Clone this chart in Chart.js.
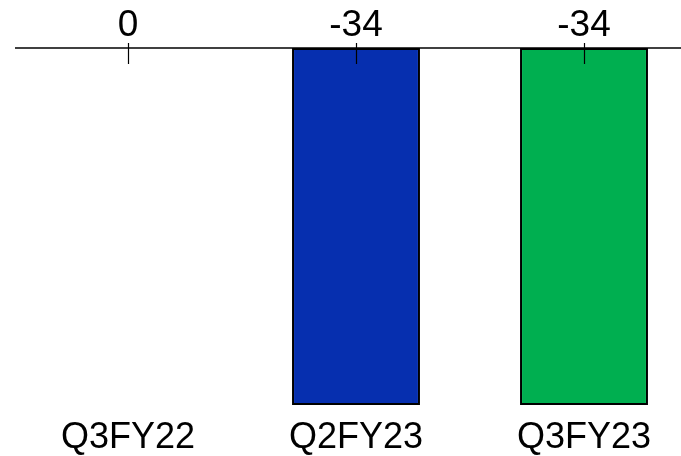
<!DOCTYPE html>
<html>
<head>
<meta charset="utf-8">
<script src="https://cdn.jsdelivr.net/npm/chart.js@4.4.1/dist/chart.umd.min.js"></script>
<style>
  html, body { margin: 0; padding: 0; background: #ffffff; overflow: hidden; }
  #frame { position: relative; width: 681px; height: 456px; overflow: hidden; }
  #wrap { position: absolute; left: 0; top: 0; width: 698px; height: 456px; }
</style>
</head>
<body>
<div id="frame"><div id="wrap"><canvas id="chart"></canvas></div></div>
<script>
// Quarterly change figures
const categories = ['Q3FY22', 'Q2FY23', 'Q3FY23'];
const values = [0, -34, -34];
const barColors = ['#7f7f7f', '#062FAF', '#00AF50'];

const FONT = '"Liberation Sans", Arial, Helvetica, sans-serif';

// Zero line, tick marks across it and value labels above it
const zeroAxis = {
  id: 'zeroAxis',
  afterDatasetsDraw(chart) {
    const { ctx, scales: { x, y } } = chart;
    const y0 = y.getPixelForValue(0);
    ctx.save();
    ctx.strokeStyle = '#000000';
    ctx.lineWidth = 1.6;
    ctx.beginPath();
    ctx.moveTo(15, y0);
    ctx.lineTo(chart.width, y0);
    ctx.stroke();
    ctx.lineWidth = 1.2;
    ctx.fillStyle = '#000000';
    ctx.font = '37px ' + FONT;
    ctx.textAlign = 'center';
    ctx.textBaseline = 'alphabetic';
    categories.forEach((c, i) => {
      const px = Math.round(x.getPixelForValue(i)) + 0.5;
      ctx.beginPath();
      ctx.moveTo(px, y0 - 5);
      ctx.lineTo(px, y0 + 16);
      ctx.stroke();
      ctx.fillText(String(values[i]), x.getPixelForValue(i), y0 - 12.5);
    });
    ctx.restore();
  }
};

new Chart(document.getElementById('chart'), {
  type: 'bar',
  data: {
    labels: categories,
    datasets: [{
      data: values,
      backgroundColor: barColors,
      borderColor: '#000000',
      borderWidth: 2,
      borderSkipped: false,
      categoryPercentage: 1,
      barPercentage: 0.561
    }]
  },
  options: {
    responsive: true,
    maintainAspectRatio: false,
    animation: false,
    layout: { padding: { left: 14, right: 0, top: 48, bottom: 0 } },
    plugins: { legend: { display: false }, tooltip: { enabled: false } },
    scales: {
      x: {
        position: 'bottom',
        grid: { display: false, drawTicks: false },
        border: { display: false },
        ticks: { color: '#000000', font: { family: FONT, size: 36 }, padding: 11, maxRotation: 0 },
        afterFit(scale) { scale.height = 51; }
      },
      y: {
        display: false,
        min: -34,
        max: 0
      }
    }
  },
  plugins: [zeroAxis]
});
</script>
</body>
</html>
